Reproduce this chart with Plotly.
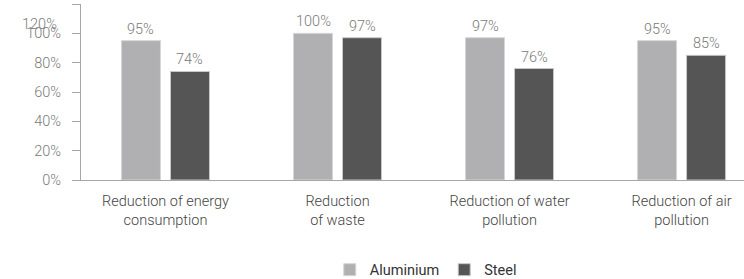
import plotly.graph_objects as go

categories = ["Reduction of energy<br>consumption", "Reduction<br>of waste",
              "Reduction of water<br>pollution", "Reduction of air<br>pollution"]
aluminium = [95, 100, 97, 95]
steel = [74, 97, 76, 85]
y_ticks = [0, 20, 40, 60, 80, 100, 120]
y_tick_text = ["0%", "20%", "40%", "60%", "80%", "100%", ""]

FS = 14.5
label_font = dict(family="Roboto", size=FS, color="#7a7a7a", weight=300)

fig = go.Figure()
fig.add_trace(go.Bar(
    x=categories, y=aluminium, name="Aluminium",
    marker=dict(color="#b0b0b2", line=dict(color="#d6d6d6", width=1)),
))
fig.add_trace(go.Bar(
    x=categories, y=steel, name="Steel",
    marker=dict(color="#555555", line=dict(color="#c8c8c8", width=1)),
))

annotations = []
for series, shift in ((aluminium, -24.5), (steel, 24.5)):
    for cat, v in zip(categories, series):
        annotations.append(dict(
            text=f"{v}%", x=cat, y=v, xref="x", yref="y", xshift=shift,
            yanchor="bottom", yshift=1, showarrow=False, font=label_font))
annotations.append(dict(text="120%", xref="paper", x=0, xanchor="right", xshift=-22,
                        yref="y", y=120, yanchor="middle", yshift=-20, showarrow=False,
                        font=label_font))

fig.update_layout(
    width=744, height=279,
    margin=dict(l=81, r=0, t=4, b=99, autoexpand=False),
    paper_bgcolor="white", plot_bgcolor="white",
    barmode="group", bargap=0.43, bargroupgap=0.204,
    font=dict(family="Roboto", size=FS, color="#444444"),
    showlegend=True,
    legend=dict(orientation="h", x=0.52, xanchor="center", y=-0.51, yanchor="middle",
                font=dict(family="Roboto", size=FS, color="#333333"),
                itemwidth=30, tracegroupgap=0),
    xaxis=dict(range=[-0.491, 3.363], showline=True, linecolor="#a6a6a6", linewidth=1,
               ticks="", showgrid=False, zeroline=False, automargin=False,
               ticklabelstandoff=8,
               tickfont=dict(family="Roboto", size=FS, color="#444444", weight=300)),
    yaxis=dict(range=[0, 120], tickvals=y_ticks, ticktext=y_tick_text,
               showline=True, linecolor="#a6a6a6", linewidth=1,
               ticks="outside", ticklen=8, tickcolor="#a6a6a6",
               showgrid=False, zeroline=False, automargin=False,
               ticklabelstandoff=8,
               tickfont=dict(family="Roboto", size=FS, color="#7a7a7a", weight=300)),
    annotations=annotations,
)

fig.write_html("out.html", config={"displayModeBar": False},
               post_script="document.body.style.margin='0';")
